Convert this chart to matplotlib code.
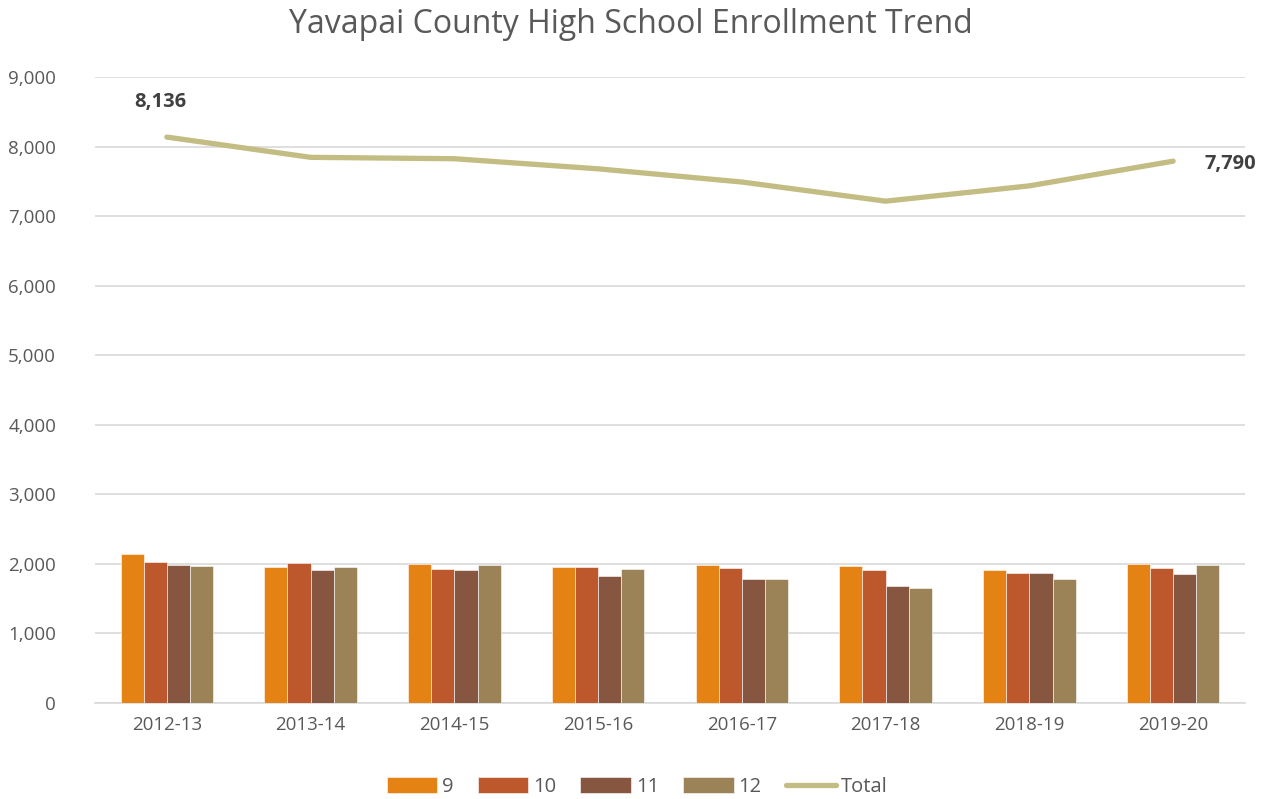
import numpy as np
import matplotlib.pyplot as plt
from matplotlib.ticker import FuncFormatter

# data
years = ["2012-13", "2013-14", "2014-15", "2015-16", "2016-17", "2017-18", "2018-19", "2019-20"]
g9 = [2144, 1962, 2000, 1962, 1981, 1971, 1909, 2000]
g10 = [2033, 2014, 1933, 1962, 1943, 1909, 1871, 1947]
g11 = [1990, 1914, 1914, 1823, 1784, 1684, 1871, 1852]
g12 = [1971, 1952, 1981, 1933, 1784, 1655, 1784, 1990]
total = [8136, 7845, 7825, 7680, 7490, 7215, 7435, 7790]

plt.rcParams['font.family'] = ['Open Sans', 'DejaVu Sans']
grey = '#595959'

fig = plt.figure(figsize=(12.62, 7.99), dpi=100)
ax = fig.add_axes([95/1262, 1-703/799, 1150/1262, 626/799])

x = np.arange(len(years))
w = 0.161
series = [("9", g9, '#E48213'), ("10", g10, '#BD582C'),
          ("11", g11, '#865640'), ("12", g12, '#9B8357')]
handles = []
for i, (lab, vals, col) in enumerate(series):
    b = ax.bar(x + (i - 1.5) * w, vals, w, color=col, label=lab,
               edgecolor='white', linewidth=0.4, zorder=3)
    handles.append(b)

ln, = ax.plot(x, total, color='#C3BC83', lw=3.8, label='Total', zorder=4,
              solid_capstyle='round')
handles.append(ln)

# data labels on first and last points
ax.annotate(f"{total[0]:,}", (x[0], total[0]), xytext=(-5, 25), textcoords='offset points',
            ha='center', va='center', fontsize=14.5, fontweight='bold', color='#404040')
ax.annotate(f"{total[-1]:,}", (x[-1], total[-1]), xytext=(41, -2), textcoords='offset points',
            ha='center', va='center', fontsize=14.5, fontweight='bold', color='#404040')

ax.set_xlim(-0.5, 7.5)
ax.set_ylim(0, 9000)
ax.set_yticks(np.arange(0, 9001, 1000))
ax.yaxis.set_major_formatter(FuncFormatter(lambda v, p: f"{int(v):,}"))
ax.set_xticks(x)
ax.set_xticklabels(years)
ax.tick_params(axis='both', length=0, labelsize=13.5, colors=grey, pad=9)
ax.tick_params(axis='y', pad=28)
ax.grid(axis='y', color='#D9D9D9', lw=1.2, zorder=0)
for s in ['top', 'right', 'left']:
    ax.spines[s].set_visible(False)
ax.spines['bottom'].set_color('#D9D9D9')
ax.spines['bottom'].set_linewidth(1.2)

fig.suptitle("Yavapai County High School Enrollment Trend", y=0.99,
             fontsize=23, color=grey)

fig.legend(handles=handles, labels=[h.get_label() for h in handles],
           loc='center', bbox_to_anchor=(0.505, 0.015), ncol=5, frameon=False,
           fontsize=14.5, labelcolor=grey, handlelength=2.5, handleheight=0.85,
           handletextpad=0.25, columnspacing=1.2)

fig.savefig('out.png', dpi=100)
